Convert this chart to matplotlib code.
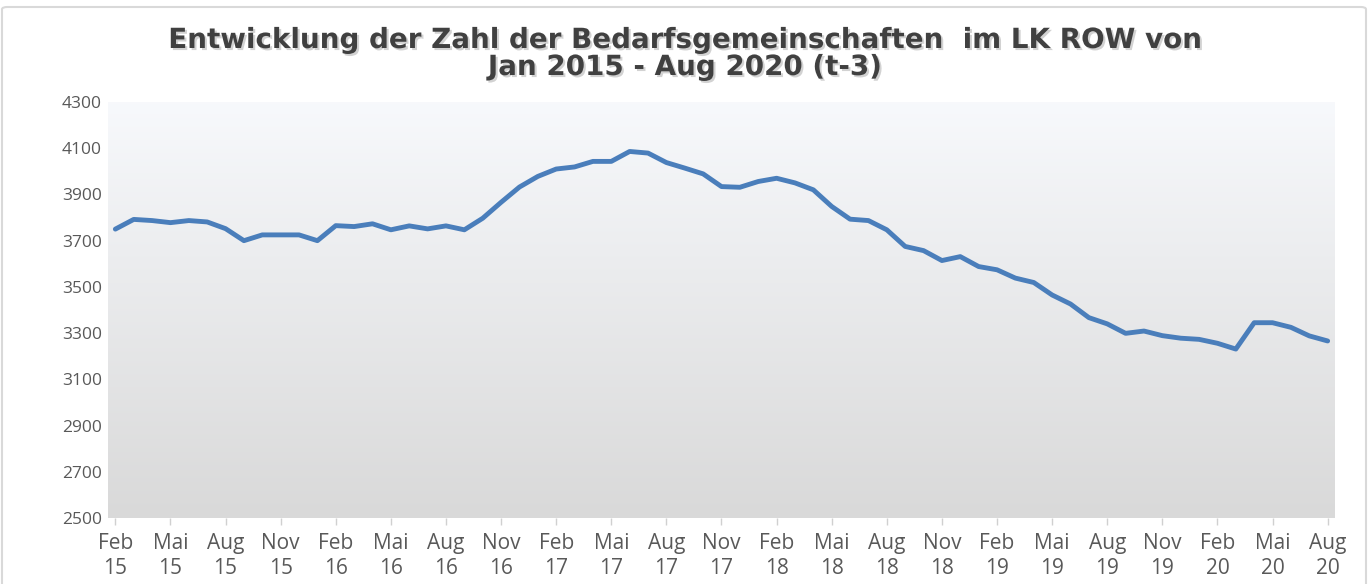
import numpy as np
import matplotlib
matplotlib.use('Agg')
import matplotlib.pyplot as plt
from matplotlib import patheffects
from matplotlib.patches import FancyBboxPatch

# Bedarfsgemeinschaften, Feb 2015 - Aug 2020 (monatlich)
monate = ['Jan', 'Feb', 'Mär', 'Apr', 'Mai', 'Jun', 'Jul', 'Aug', 'Sep', 'Okt', 'Nov', 'Dez']
start_monat = 1   # Feb
start_jahr = 15
werte = [3750, 3792, 3787, 3778, 3787, 3781, 3752, 3700, 3725, 3725,
         3725, 3700, 3765, 3761, 3773, 3747, 3764, 3751, 3764, 3747,
         3797, 3866, 3932, 3978, 4010, 4019, 4043, 4043, 4086, 4079,
         4038, 4014, 3989, 3934, 3931, 3956, 3970, 3950, 3920, 3848,
         3793, 3787, 3747, 3675, 3657, 3614, 3631, 3588, 3574, 3538,
         3519, 3465, 3426, 3367, 3340, 3299, 3309, 3289, 3278, 3273,
         3256, 3231, 3345, 3345, 3325, 3288, 3266]
y_ticks = list(range(2500, 4301, 200))
titel_1 = 'Entwicklung der Zahl der Bedarfsgemeinschaften  im LK ROW von'
titel_2 = 'Jan 2015 - Aug 2020 (t-3)'

x = np.arange(len(werte))
x_pos = x[::3]
x_labels = []
for i in x_pos:
    m = (start_monat + i) % 12
    j = start_jahr + (start_monat + i) // 12
    x_labels.append(f'{monate[m]}\n{j}')

fig = plt.figure(figsize=(13.7, 5.84), dpi=100)
fig.patch.set_facecolor('white')

rahmen = FancyBboxPatch((2 / 1370, -0.02), 1364 / 1370, 1 - 7 / 584 + 0.02,
                        boxstyle='round,pad=0,rounding_size=0.004',
                        transform=fig.transFigure, facecolor='none',
                        edgecolor='#d9d9d9', linewidth=1.5)
fig.patches.append(rahmen)

ax = fig.add_axes([108 / 1370, 66 / 584, 1227 / 1370, 416 / 584])

# Hintergrund-Verlauf (oben fast weiß, unten hellgrau)
oben = np.array([0.969, 0.976, 0.988])
unten = np.array([0.851, 0.851, 0.851])
t = np.linspace(0, 1, 256)[:, None]
verlauf = oben[None, :] * (1 - t) + unten[None, :] * t
ax.imshow(verlauf[:, None, :], extent=[0, 1, 0, 1], transform=ax.transAxes,
          aspect='auto', zorder=0)

ax.plot(x, werte, color='#4a7ebb', linewidth=3.5, solid_joinstyle='round',
        solid_capstyle='round', zorder=3)

ax.set_xlim(-0.4, len(werte) - 0.6)
ax.set_ylim(2500, 4300)
ax.set_yticks(y_ticks)
ax.set_xticks(x_pos)
ax.set_xticklabels(x_labels, linespacing=1.25)

for s in ax.spines.values():
    s.set_visible(False)

ax.tick_params(axis='y', length=0, pad=4.5, labelsize=12.5, labelcolor='#595959')
ax.tick_params(axis='x', length=5, width=1, color='#d0d0d0', pad=6,
               labelsize=15, labelcolor='#595959')
for lab in ax.get_xticklabels() + ax.get_yticklabels():
    lab.set_fontfamily('Open Sans')

schatten = [patheffects.withSimplePatchShadow(offset=(1.5, -1.5),
                                              shadow_rgbFace='#808080', alpha=0.35)]
fig.text(0.5, 1 - 40 / 584, titel_1, ha='center', va='center', fontsize=20,
         fontweight='bold', color='#404040', family='DejaVu Sans',
         path_effects=schatten)
fig.text(0.5, 1 - 67 / 584, titel_2, ha='center', va='center', fontsize=20,
         fontweight='bold', color='#404040', family='DejaVu Sans',
         path_effects=schatten)

fig.savefig('out.png', dpi=100)
